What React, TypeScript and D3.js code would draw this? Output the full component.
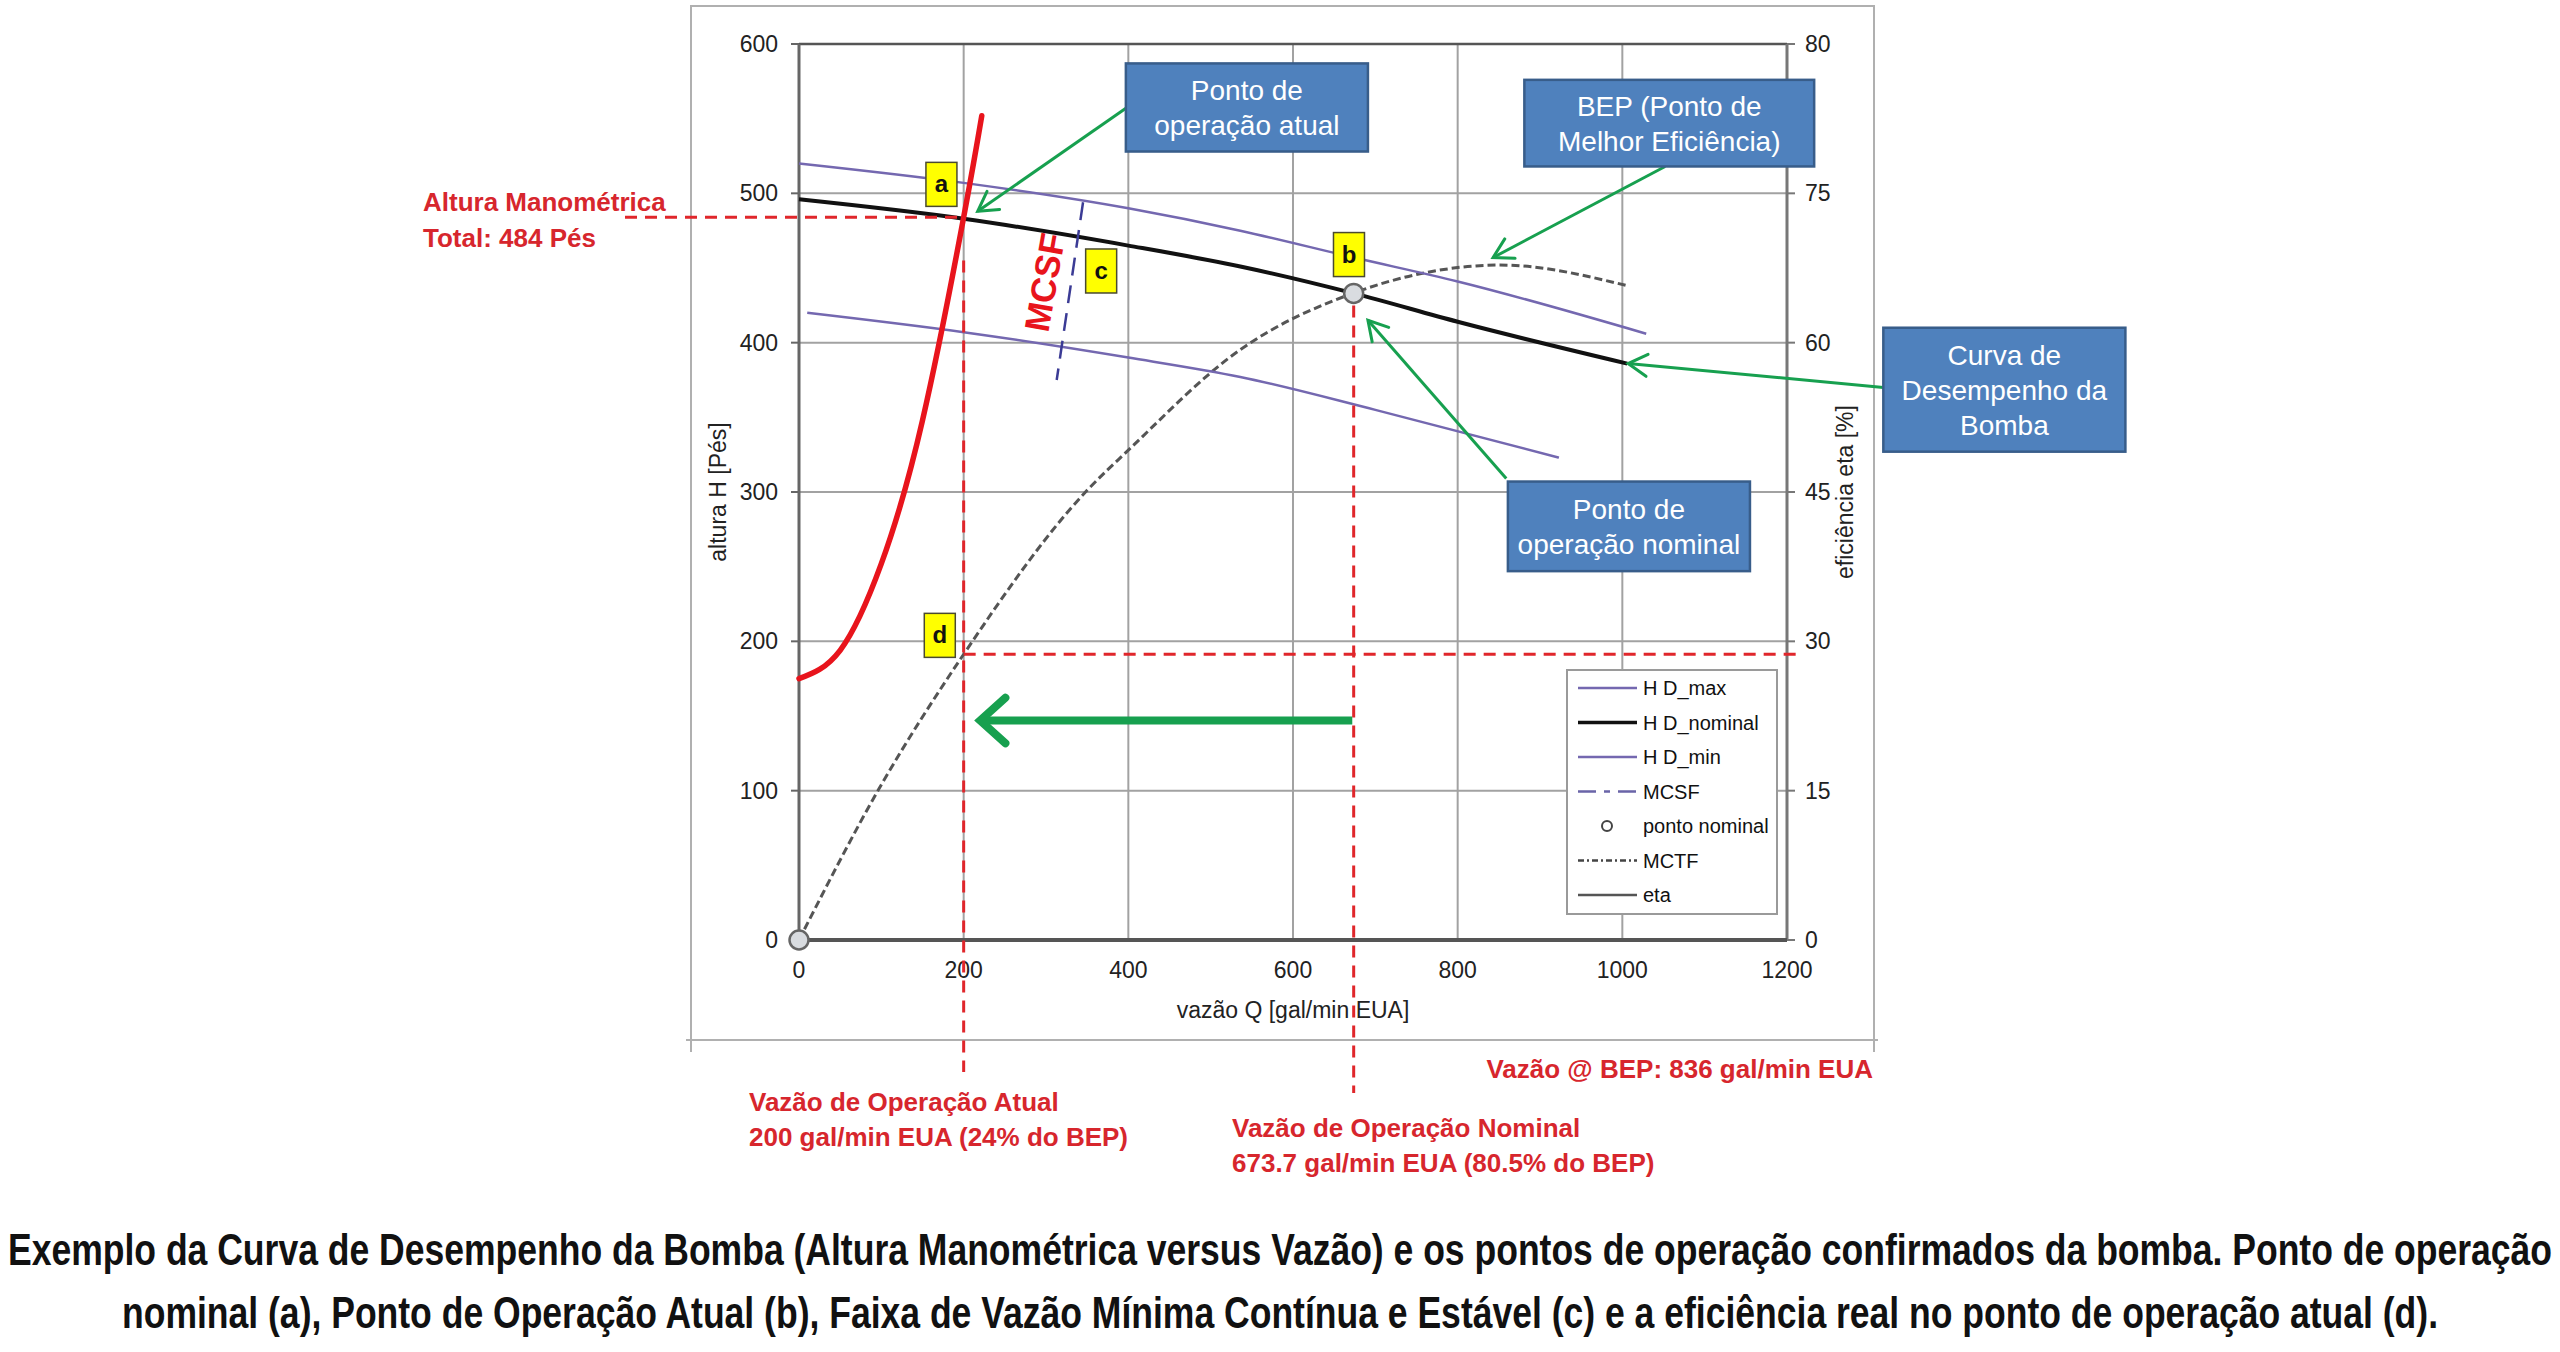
import React, { useEffect, useRef } from "react";
import * as d3 from "d3";

// ---- dados ----
const qTicks = [0, 200, 400, 600, 800, 1000, 1200];
const hTicks = [0, 100, 200, 300, 400, 500, 600];
const etaTicks = [0, 15, 30, 45, 60, 75, 90];
const etaTickLabels = ["0", "15", "30", "45", "60", "75", "80"];

const hdMaxQ = [0, 200, 400, 536, 674, 800, 1029];
const hdMaxH = [520, 507, 490, 475, 457, 441, 406];
const hdNomQ = [0, 200, 400, 536, 674, 800, 1006];
const hdNomH = [496, 483, 465, 451, 433, 414, 386];
const hdMinQ = [10, 200, 400, 536, 700, 923];
const hdMinH = [420, 407, 390, 377, 355, 323];

const sysQ = [0, 50, 100, 150, 200, 222];
const sysH = [175, 194, 252, 348, 484, 552];

const etaQ = [0, 100, 200, 348, 400, 536, 674, 759, 851, 1007];
const etaV = [0, 15.6, 28.7, 45, 49.2, 59.3, 65, 67, 67.8, 65.7];

const mcsfQ = [345, 313];
const mcsfH = [494, 375];

const nominalQ = 673.7;
const nominalH = 433;
const currentQ = 200;
const currentH = 484;
const currentEta = 28.7;

const pointLabels = [
  { t: "a", q: 173, h: 506 },
  { t: "b", q: 668, h: 459 },
  { t: "c", q: 367, h: 448 },
  { t: "d", q: 171, h: 204 },
];

const callouts = [
  { lines: ["Ponto de", "operação atual"], q0: 397, q1: 691, h0: 587, h1: 528, from: [397, 557], to: [217, 488] },
  { lines: ["BEP (Ponto de", "Melhor Eficiência)"], q0: 881, q1: 1233, h0: 576, h1: 518, from: [1052, 518], to: [843, 457] },
  { lines: ["Curva de", "Desempenho da", "Bomba"], q0: 1317, q1: 1611, h0: 410, h1: 327, from: [1317, 370], to: [1007, 386] },
  { lines: ["Ponto de", "operação nominal"], q0: 861, q1: 1155, h0: 307, h1: 247, from: [859, 309], to: [691, 415] },
];

const legendItems = [
  { label: "H D_max", kind: "line", color: "#7468b0", w: 2.5, dash: "" },
  { label: "H D_nominal", kind: "line", color: "#111", w: 3.5, dash: "" },
  { label: "H D_min", kind: "line", color: "#7468b0", w: 2.5, dash: "" },
  { label: "MCSF", kind: "line", color: "#6a64a8", w: 2.5, dash: "18,8,6,8" },
  { label: "ponto nominal", kind: "dot", color: "#444", w: 2, dash: "" },
  { label: "MCTF", kind: "line", color: "#444", w: 2.5, dash: "6,3,2,3" },
  { label: "eta", kind: "line", color: "#555", w: 2.5, dash: "" },
];

const FONT = "'Liberation Sans', Arial, sans-serif";
const NARROW = "'Liberation Sans Narrow', 'Arial Narrow', 'Liberation Sans', sans-serif";
const RED = "#d7262d";
const GREEN = "#17a04f";

export default function App() {
  const svgRef = useRef<SVGSVGElement>(null);

  useEffect(() => {
    if (!svgRef.current) return;
    const svg = d3.select(svgRef.current);
    svg.selectAll("*").remove();

    const x = d3.scaleLinear().domain([0, 1200]).range([799, 1787]);
    const y = d3.scaleLinear().domain([0, 600]).range([940, 44]);
    const yEta = d3.scaleLinear().domain([0, 90]).range([940, 44]);

    svg.append("rect").attr("width", 2560).attr("height", 1352).attr("fill", "#fff");

    // moldura externa
    const frame = svg.append("g").attr("stroke", "#b0b0b0").attr("stroke-width", 2).attr("fill", "none");
    frame.append("path").attr("d", "M691,1052V6H1874V1052");
    frame.append("line").attr("x1", 686).attr("x2", 1878).attr("y1", 1040).attr("y2", 1040);

    const g = svg.append("g");

    // grade
    g.selectAll(".gh").data(hTicks).enter().append("line")
      .attr("x1", x(0)).attr("x2", x(1200))
      .attr("y1", (d) => y(d)).attr("y2", (d) => y(d))
      .attr("stroke", "#a2a2a2").attr("stroke-width", 2);
    g.selectAll(".gv").data(qTicks).enter().append("line")
      .attr("x1", (d) => x(d)).attr("x2", (d) => x(d))
      .attr("y1", y(0)).attr("y2", y(600))
      .attr("stroke", "#a2a2a2").attr("stroke-width", 2);

    // eixos
    g.append("line").attr("x1", x(0)).attr("x2", x(1200)).attr("y1", y(600)).attr("y2", y(600)).attr("stroke", "#555").attr("stroke-width", 2.5);
    g.append("line").attr("x1", x(0)).attr("x2", x(0)).attr("y1", y(600)).attr("y2", y(0)).attr("stroke", "#666").attr("stroke-width", 3);
    g.append("line").attr("x1", x(1200)).attr("x2", x(1200)).attr("y1", y(600)).attr("y2", y(0)).attr("stroke", "#777").attr("stroke-width", 3);
    g.append("line").attr("x1", x(0)).attr("x2", x(1200)).attr("y1", y(0)).attr("y2", y(0)).attr("stroke", "#555").attr("stroke-width", 4);

    // ticks e rótulos
    g.selectAll(".tl").data(hTicks).enter().append("line")
      .attr("x1", x(0) - 8).attr("x2", x(0)).attr("y1", (d) => y(d)).attr("y2", (d) => y(d))
      .attr("stroke", "#666").attr("stroke-width", 2);
    g.selectAll(".tr").data(etaTicks).enter().append("line")
      .attr("x1", x(1200)).attr("x2", x(1200) + 8).attr("y1", (d) => yEta(d)).attr("y2", (d) => yEta(d))
      .attr("stroke", "#777").attr("stroke-width", 2);
    g.selectAll(".lh").data(hTicks).enter().append("text")
      .attr("x", 778).attr("y", (d) => y(d) + 8).attr("text-anchor", "end")
      .attr("font-family", FONT).attr("font-size", 23).attr("fill", "#222").text((d) => d);
    g.selectAll(".le").data(etaTicks).enter().append("text")
      .attr("x", 1805).attr("y", (d) => yEta(d) + 8)
      .attr("font-family", FONT).attr("font-size", 23).attr("fill", "#222")
      .text((d, i) => etaTickLabels[i]);
    g.selectAll(".lq").data(qTicks).enter().append("text")
      .attr("x", (d) => x(d)).attr("y", 978).attr("text-anchor", "middle")
      .attr("font-family", FONT).attr("font-size", 23).attr("fill", "#222").text((d) => d);

    g.append("text").attr("x", x(600)).attr("y", 1018).attr("text-anchor", "middle")
      .attr("font-family", FONT).attr("font-size", 23).attr("fill", "#222").text("vazão Q [gal/min EUA]");
    g.append("text").attr("transform", `translate(726,${y(300)}) rotate(-90)`).attr("text-anchor", "middle")
      .attr("font-family", FONT).attr("font-size", 23).attr("fill", "#222").text("altura H [Pés]");
    g.append("text").attr("transform", `translate(1853,${y(300)}) rotate(-90)`).attr("text-anchor", "middle")
      .attr("font-family", FONT).attr("font-size", 23).attr("fill", "#222").text("eficiência eta [%]");

    // curvas
    const lineQH = d3.line<[number, number]>().x((d) => x(d[0])).y((d) => y(d[1])).curve(d3.curveMonotoneX);
    const lineEta = d3.line<[number, number]>().x((d) => x(d[0])).y((d) => yEta(d[1])).curve(d3.curveMonotoneX);
    const zip = (a: number[], b: number[]) => a.map((v, i) => [v, b[i]] as [number, number]);

    g.append("path").attr("d", lineEta(zip(etaQ, etaV))).attr("fill", "none")
      .attr("stroke", "#555").attr("stroke-width", 3).attr("stroke-dasharray", "8,4");
    g.append("path").attr("d", lineQH(zip(hdMaxQ, hdMaxH))).attr("fill", "none").attr("stroke", "#7468b0").attr("stroke-width", 2.5);
    g.append("path").attr("d", lineQH(zip(hdMinQ, hdMinH))).attr("fill", "none").attr("stroke", "#7468b0").attr("stroke-width", 2.5);
    g.append("path").attr("d", lineQH(zip(hdNomQ, hdNomH))).attr("fill", "none").attr("stroke", "#111").attr("stroke-width", 4);
    g.append("line").attr("x1", x(mcsfQ[0])).attr("y1", y(mcsfH[0])).attr("x2", x(mcsfQ[1])).attr("y2", y(mcsfH[1]))
      .attr("stroke", "#3b3b95").attr("stroke-width", 2.5).attr("stroke-dasharray", "18,10");

    // MCSF texto
    g.append("text").attr("transform", `translate(${x(302)},${y(440)}) rotate(-80)`).attr("text-anchor", "middle")
      .attr("dominant-baseline", "middle")
      .attr("font-family", FONT).attr("font-weight", "bold").attr("font-size", 35).attr("fill", "#e8141c").text("MCSF");

    // curva do sistema
    g.append("path").attr("d", d3.line<[number, number]>().x((d) => x(d[0])).y((d) => y(d[1])).curve(d3.curveNatural)(zip(sysQ, sysH)))
      .attr("fill", "none").attr("stroke", "#e8141c").attr("stroke-width", 5.5).attr("stroke-linecap", "round");

    // linhas de referência tracejadas
    const refLines = g.append("g").attr("stroke", "#e0262b").attr("stroke-width", 3).attr("stroke-dasharray", "12,8").attr("fill", "none");
    refLines.append("line").attr("x1", 625).attr("x2", x(currentQ) - 4).attr("y1", y(currentH)).attr("y2", y(currentH));
    refLines.append("line").attr("x1", x(currentQ)).attr("x2", x(currentQ)).attr("y1", y(455)).attr("y2", 1072);
    refLines.append("line").attr("x1", x(nominalQ)).attr("x2", x(nominalQ)).attr("y1", y(nominalH) + 12).attr("y2", 1093);
    refLines.append("line").attr("x1", x(currentQ)).attr("x2", x(1200) + 10).attr("y1", yEta(currentEta)).attr("y2", yEta(currentEta));

    // pontos
    [[0, 0], [nominalQ, nominalH]].forEach(([q, h]) => {
      g.append("circle").attr("cx", x(q)).attr("cy", y(h)).attr("r", 9.5)
        .attr("fill", "#d9dce0").attr("stroke", "#666").attr("stroke-width", 2.5);
    });

    // rótulos a, b, c, d
    pointLabels.forEach((p) => {
      const cx = x(p.q), cy = y(p.h);
      g.append("rect").attr("x", cx - 15.5).attr("y", cy - 22).attr("width", 31).attr("height", 44)
        .attr("fill", "#ffff00").attr("stroke", "#4a4a30").attr("stroke-width", 1.5);
      g.append("text").attr("x", cx).attr("y", cy + 8).attr("text-anchor", "middle")
        .attr("font-family", FONT).attr("font-weight", "bold").attr("font-size", 24).attr("fill", "#111").text(p.t);
    });

    // legenda
    const lg = g.append("g");
    lg.append("rect").attr("x", 1567).attr("y", 670).attr("width", 210).attr("height", 244)
      .attr("fill", "#fff").attr("stroke", "#9a9a9a").attr("stroke-width", 2);
    legendItems.forEach((it, i) => {
      const yy = 688 + i * 34.5;
      if (it.kind === "line") {
        lg.append("line").attr("x1", 1578).attr("x2", 1637).attr("y1", yy).attr("y2", yy)
          .attr("stroke", it.color).attr("stroke-width", it.w).attr("stroke-dasharray", it.dash || null);
      } else {
        lg.append("circle").attr("cx", 1607).attr("cy", yy).attr("r", 5).attr("fill", "#fff")
          .attr("stroke", it.color).attr("stroke-width", it.w);
      }
      lg.append("text").attr("x", 1643).attr("y", yy + 7).attr("font-family", FONT).attr("font-size", 20)
        .attr("fill", "#111").text(it.label);
    });

    // setas
    const arrow = (x1: number, y1: number, x2: number, y2: number, color: string, w: number, head: number, ang: number) => {
      g.append("line").attr("x1", x1).attr("y1", y1).attr("x2", x2).attr("y2", y2)
        .attr("stroke", color).attr("stroke-width", w);
      const a = Math.atan2(y1 - y2, x1 - x2);
      const t = (ang * Math.PI) / 180;
      const p1 = [x2 + head * Math.cos(a + t), y2 + head * Math.sin(a + t)];
      const p2 = [x2 + head * Math.cos(a - t), y2 + head * Math.sin(a - t)];
      g.append("path").attr("d", `M${p1[0]},${p1[1]}L${x2},${y2}L${p2[0]},${p2[1]}`)
        .attr("fill", "none").attr("stroke", color).attr("stroke-width", w).attr("stroke-linecap", "round");
    };

    arrow(x(672), y(147), x(220), y(147), GREEN, 8, 34, 42);

    callouts.forEach((c) => {
      arrow(x(c.from[0]), y(c.from[1]), x(c.to[0]), y(c.to[1]), GREEN, 3, 22, 30);
    });
    callouts.forEach((c) => {
      const bx = x(c.q0), by = y(c.h0), bw = x(c.q1) - x(c.q0), bh = y(c.h1) - y(c.h0);
      g.append("rect").attr("x", bx).attr("y", by).attr("width", bw).attr("height", bh)
        .attr("fill", "#4f81bd").attr("stroke", "#385d8a").attr("stroke-width", 2.5);
      const cy = by + bh / 2;
      c.lines.forEach((ln, i) => {
        g.append("text").attr("x", bx + bw / 2).attr("y", cy + (i - (c.lines.length - 1) / 2) * 35 + 10)
          .attr("text-anchor", "middle").attr("font-family", FONT).attr("font-size", 28).attr("fill", "#fff").text(ln);
      });
    });

    // anotações em vermelho
    const red = (tx: number, ty: number, s: string, anchor = "start") =>
      svg.append("text").attr("x", tx).attr("y", ty).attr("text-anchor", anchor).attr("font-family", FONT)
        .attr("font-weight", "bold").attr("font-size", 26).attr("fill", RED).text(s);
    red(423, 211, "Altura Manométrica");
    red(423, 247, "Total: 484 Pés");
    red(1873, 1078, "Vazão @ BEP: 836 gal/min EUA", "end");
    red(749, 1111, "Vazão de Operação Atual");
    red(749, 1146, "200 gal/min EUA (24% do BEP)");
    red(1232, 1137, "Vazão de Operação Nominal");
    red(1232, 1172, "673.7 gal/min EUA (80.5% do BEP)");

    // legenda da figura
    svg.append("text").attr("x", 8).attr("y", 1265).attr("font-family", NARROW).attr("font-weight", "bold")
      .attr("font-size", 44).attr("fill", "#111").attr("textLength", 2544).attr("lengthAdjust", "spacingAndGlyphs")
      .text("Exemplo da Curva de Desempenho da Bomba (Altura Manométrica versus Vazão) e os pontos de operação confirmados da bomba. Ponto de operação");
    svg.append("text").attr("x", 122).attr("y", 1328).attr("font-family", NARROW).attr("font-weight", "bold")
      .attr("font-size", 44).attr("fill", "#111").attr("textLength", 2316).attr("lengthAdjust", "spacingAndGlyphs")
      .text("nominal (a), Ponto de Operação Atual (b), Faixa de Vazão Mínima Contínua e Estável (c) e a eficiência real no ponto de operação atual (d).");
  }, []);

  return (
    <svg
      ref={svgRef}
      width={2560}
      height={1352}
      style={{ position: "absolute", left: 0, top: 0, display: "block", background: "#fff" }}
    />
  );
}
